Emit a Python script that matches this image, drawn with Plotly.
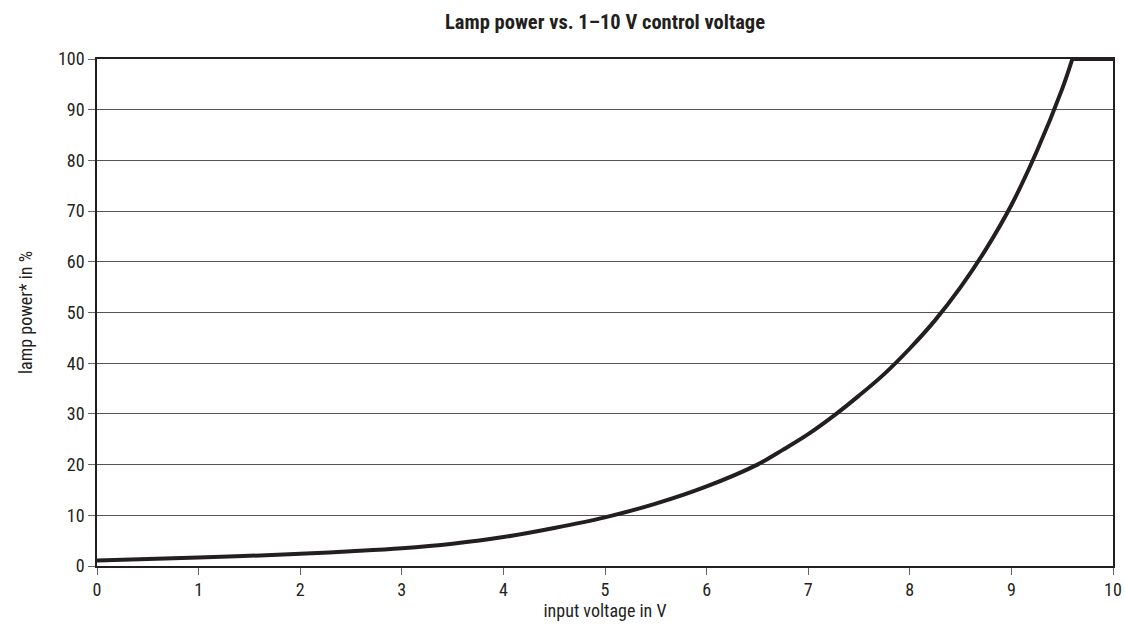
import plotly.graph_objects as go

# Data
voltage = [0, 0.5, 1, 1.5, 2, 2.5, 3, 3.5, 4, 4.5, 5, 5.5, 6, 6.5, 6.75, 7, 7.25, 7.5, 7.75, 8,
           8.25, 8.5, 8.75, 9, 9.25, 9.5, 9.6, 10]
power = [1.1, 1.4, 1.7, 2.0, 2.4, 2.9, 3.5, 4.4, 5.7, 7.5, 9.6, 12.3, 15.7, 20, 22.9, 26.0, 29.6, 33.6, 37.9, 42.9,
         48.5, 55.0, 62.5, 71.2, 81.8, 94.1, 100, 100]

x_ticks = list(range(0, 11))
y_ticks = list(range(0, 101, 10))

title_text = "Lamp power vs. 1\u201310 V control voltage"
x_title = "input voltage in V"
y_title = "lamp power* in %"

FONT = "Roboto Condensed, Liberation Sans Narrow, Arial Narrow, sans-serif"
INK = "#231f20"

# index where the curve reaches the 100 % plateau
k = power.index(100)

fig = go.Figure()
fig.add_trace(go.Scatter(
    x=voltage[:k + 1], y=power[:k + 1], mode="lines",
    line=dict(color=INK, width=4, shape="spline", smoothing=1.0),
    showlegend=False, hoverinfo="x+y",
))
fig.add_trace(go.Scatter(
    x=voltage[k:], y=power[k:], mode="lines",
    line=dict(color=INK, width=4),
    showlegend=False, hoverinfo="x+y",
))

fig.update_layout(
    width=1125, height=640,
    margin=dict(l=97, r=12, t=59, b=74),
    paper_bgcolor="white", plot_bgcolor="white",
    font=dict(family=FONT, size=18, color=INK),
    title=dict(text="<b>" + title_text + "</b>", x=605 / 1125, xanchor="center",
               y=1 - 22 / 640, yanchor="middle",
               font=dict(family=FONT, size=20.5, color=INK)),
)
fig.update_xaxes(
    range=[0, 10], tickvals=x_ticks, ticktext=[str(v) for v in x_ticks],
    showgrid=False, zeroline=False, automargin=False,
    showline=True, linecolor=INK, linewidth=1.5, mirror=True,
    ticks="outside", ticklen=7, tickcolor="#666", tickwidth=1,
    tickfont=dict(size=18),
    title=dict(text=x_title, font=dict(size=18), standoff=3),
)
fig.update_yaxes(
    range=[0, 100], tickvals=y_ticks, ticktext=[str(v) for v in y_ticks],
    showgrid=True, gridcolor="#555", gridwidth=1, zeroline=False, automargin=False,
    showline=True, linecolor=INK, linewidth=1.5, mirror=True,
    ticks="outside", ticklen=7, tickcolor="#666", tickwidth=1,
    tickfont=dict(size=18),
    title=dict(text=y_title, font=dict(size=18), standoff=21),
)

fig.write_html("out.html", config={"displayModeBar": False},
               post_script="document.body.style.margin='0';")
